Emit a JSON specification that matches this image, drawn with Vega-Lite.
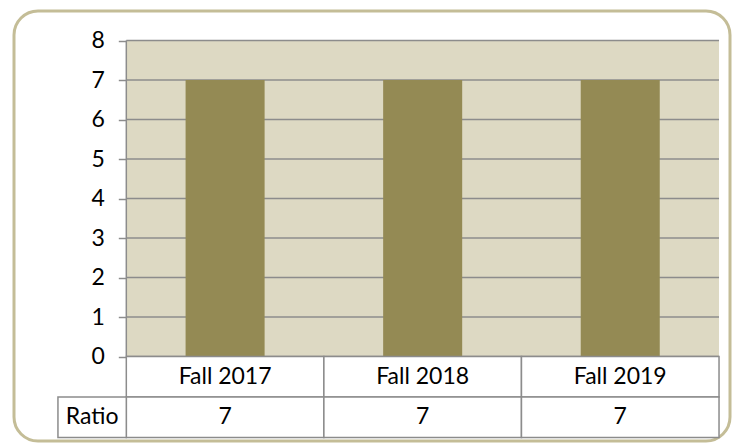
{
  "$schema": "https://vega.github.io/schema/vega-lite/v6.json",
  "width": 716,
  "height": 430,
  "autosize": {"type": "none"},
  "padding": {"left": 14, "top": 11, "right": 2, "bottom": 2},
  "background": "white",
  "config": {
    "view": {"stroke": "#c4bd97", "strokeWidth": 3, "cornerRadius": 24, "fill": "white"},
    "font": "Lato",
    "text": {"font": "Lato", "fontSize": 23, "color": "#000000"}
  },
  "datasets": {
    "terms": [
      {"term": "Fall 2017", "ratio": 7},
      {"term": "Fall 2018", "ratio": 7},
      {"term": "Fall 2019", "ratio": 7}
    ],
    "ticks": [{"v": 0}, {"v": 1}, {"v": 2}, {"v": 3}, {"v": 4}, {"v": 5}, {"v": 6}, {"v": 7}, {"v": 8}],
    "rowlabel": [{"label": "Ratio"}]
  },
  "layer": [
    {
      "data": {"name": "rowlabel"},
      "mark": {"type": "rect", "fill": "#ddd9c3"},
      "encoding": {
        "x": {"datum": "Fall 2017", "type": "nominal", "bandPosition": 0, "axis": null,
              "scale": {"type": "band", "domain": ["Fall 2017", "Fall 2018", "Fall 2019"], "paddingInner": 0, "paddingOuter": 0.312, "align": 0.911}},
        "x2": {"datum": "Fall 2019", "bandPosition": 1},
        "y": {"datum": 0, "type": "quantitative",
              "scale": {"domain": [-2.139, 8.747], "nice": false, "zero": false},
              "axis": {"values": [0, 1, 2, 3, 4, 5, 6, 7, 8], "domain": false, "grid": false, "ticks": true, "tickSize": 8, "tickColor": "#8c8c8c", "tickWidth": 1.5, "labelFont": "Lato", "labelFontSize": 23, "labelColor": "#000000", "labelPadding": 14, "offset": -112.3, "title": null}},
        "y2": {"datum": 8}
      }
    },
    {
      "data": {"name": "ticks"},
      "mark": {"type": "rule", "stroke": "#8c8c8c", "strokeWidth": 1.5},
      "encoding": {
        "x": {"datum": "Fall 2017", "type": "nominal", "bandPosition": 0},
        "x2": {"datum": "Fall 2019", "bandPosition": 1},
        "y": {"field": "v", "type": "quantitative"}
      }
    },
    {
      "data": {"name": "terms"},
      "mark": {"type": "bar", "fill": "#948a54", "width": {"band": 0.4}},
      "encoding": {
        "x": {"field": "term", "type": "nominal", "sort": null},
        "y": {"field": "ratio", "type": "quantitative"},
        "y2": {"datum": 0}
      }
    },
    {
      "data": {"name": "rowlabel"},
      "mark": {"type": "rule", "stroke": "#8c8c8c", "strokeWidth": 1.5},
      "encoding": {
        "x": {"datum": "Fall 2017", "type": "nominal", "bandPosition": 0},
        "y": {"datum": 8, "type": "quantitative"},
        "y2": {"datum": 0}
      }
    },
    {
      "data": {"name": "terms"},
      "mark": {"type": "rect", "fill": "white", "stroke": "#8c8c8c", "strokeWidth": 1.5},
      "encoding": {
        "x": {"field": "term", "type": "nominal", "sort": null},
        "y": {"datum": 0, "type": "quantitative"},
        "y2": {"datum": -1.025}
      }
    },
    {
      "data": {"name": "terms"},
      "mark": {"type": "rect", "fill": "white", "stroke": "#8c8c8c", "strokeWidth": 1.5},
      "encoding": {
        "x": {"field": "term", "type": "nominal", "sort": null},
        "y": {"datum": -1.025, "type": "quantitative"},
        "y2": {"datum": -2.05}
      }
    },
    {
      "data": {"name": "rowlabel"},
      "mark": {"type": "rect", "fill": "white", "stroke": "#8c8c8c", "strokeWidth": 1.5},
      "encoding": {
        "x": {"datum": "Fall 2017", "type": "nominal", "bandPosition": -0.346},
        "x2": {"datum": "Fall 2017", "bandPosition": 0},
        "y": {"datum": -1.025, "type": "quantitative"},
        "y2": {"datum": -2.05}
      }
    },
    {
      "data": {"name": "terms"},
      "mark": {"type": "text", "baseline": "middle", "align": "center"},
      "encoding": {
        "x": {"field": "term", "type": "nominal", "sort": null},
        "y": {"datum": -0.5125, "type": "quantitative"},
        "text": {"field": "term"}
      }
    },
    {
      "data": {"name": "terms"},
      "mark": {"type": "text", "baseline": "middle", "align": "center"},
      "encoding": {
        "x": {"field": "term", "type": "nominal", "sort": null},
        "y": {"datum": -1.5375, "type": "quantitative"},
        "text": {"field": "ratio"}
      }
    },
    {
      "data": {"name": "rowlabel"},
      "mark": {"type": "text", "baseline": "middle", "align": "center"},
      "encoding": {
        "x": {"datum": "Fall 2017", "type": "nominal", "bandPosition": -0.173},
        "y": {"datum": -1.5375, "type": "quantitative"},
        "text": {"field": "label"}
      }
    }
  ]
}
